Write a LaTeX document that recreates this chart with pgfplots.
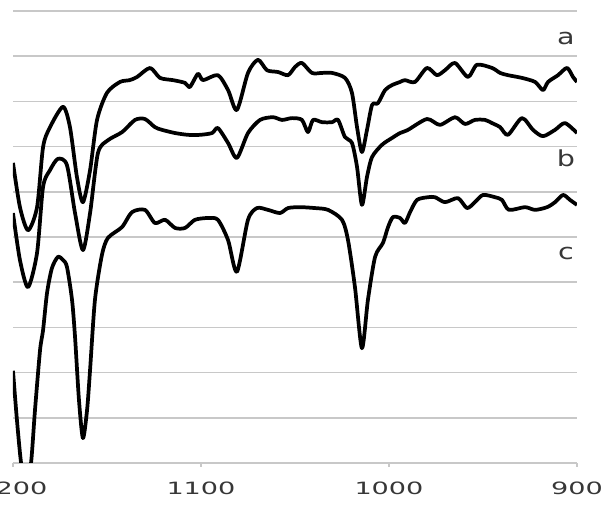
\documentclass[border=0pt]{standalone}
\usepackage{fontspec}
\usepackage{pgfplots}
\pgfplotsset{compat=1.18}
\newfontfamily\tickfont[FakeStretch=1.6]{DejaVu Sans}
\newfontfamily\labfont[FakeStretch=1.3]{DejaVu Sans}
\definecolor{gridgray}{RGB}{200,200,200}
\definecolor{txtgray}{RGB}{55,55,55}

\begin{document}
\begin{tikzpicture}
\path[use as bounding box] (-9.75pt,-32.25pt) rectangle (443.25pt,347.25pt);
\clip (-9.75pt,-32.25pt) rectangle (443.25pt,347.25pt);
\begin{axis}[
    scale only axis,
    width=423pt, height=339pt,
    xmin=900, xmax=1200, x dir=reverse,
    ymin=0, ymax=10,
    axis line style={draw=none},
    xtick={900,1000,1100,1200},
    xtick pos=bottom,
    tick align=outside,
    major tick length=3pt,
    x tick style={gridgray, line width=1pt},
    xticklabel style={font=\tickfont\fontsize{12.7}{14}\selectfont, text=txtgray, yshift=-8pt},
    /pgf/number format/assume math mode=true,
    /pgf/number format/1000 sep={},
    ytick={0,1,...,10},
    yticklabels={},
    y tick style={draw=none},
    ymajorgrids=true,
    grid style={gridgray, line width=1.3pt},
    spectrum/.style={black, no markers, line width=2.8pt, line join=round, smooth, tension=0.45},
]
% a
\addplot[spectrum] coordinates {
(1200,6.64) (1196.3,5.66) (1192.0,5.15) (1187.2,5.66) (1184.0,6.99) (1180.3,7.43)
(1173.4,7.88) (1169.7,7.43) (1166.0,6.33) (1162.8,5.77) (1159.0,6.48) (1155.3,7.59)
(1150.0,8.19) (1143.1,8.43) (1138.0,8.47) (1134.0,8.54) (1127.1,8.74) (1121.8,8.52) (1114.9,8.47)
(1108.5,8.41) (1105.9,8.32) (1101.6,8.61) (1098.9,8.47) (1091.0,8.58) (1085.6,8.25)
(1080.9,7.81) (1075.0,8.63) (1069.7,8.92) (1064.9,8.69) (1059.0,8.65) (1053.7,8.58)
(1050.0,8.76) (1046.3,8.85) (1041.0,8.63) (1035.6,8.63) (1030.3,8.63) (1023.4,8.52)
(1019.7,8.19) (1017.0,7.43) (1014.4,6.88) (1011.7,7.37) (1009.0,7.92) (1005.9,7.96)
(1002.1,8.25) (998.4,8.36) (994.1,8.43) (991.5,8.47) (986.2,8.43) (979.8,8.74)
(974.5,8.58) (970.2,8.69) (964.9,8.85) (958.0,8.54) (953.2,8.81) (945.2,8.74)
(940.9,8.63) (936.7,8.58) (929.3,8.52) (922.3,8.43) (918.1,8.25) (915.4,8.43)
(910.1,8.58) (905.3,8.74) (902.1,8.54) (900.0,8.43)
};
% b
\addplot[spectrum] coordinates {
(1200,5.53) (1196.3,4.49) (1192.0,3.89) (1187.2,4.65) (1184.0,6.11) (1180.3,6.48)
(1176.1,6.73) (1171.3,6.59) (1167.0,5.53) (1162.8,4.71) (1159.0,5.53) (1154.8,6.86)
(1149.5,7.14) (1142.0,7.32) (1135.1,7.59) (1129.8,7.61) (1124.5,7.43) (1120.7,7.37)
(1113.8,7.30) (1106.9,7.26) (1100.5,7.26) (1094.1,7.30) (1091.0,7.41) (1085.6,7.08)
(1080.9,6.75) (1075.0,7.30) (1068.6,7.59) (1061.7,7.65) (1056.9,7.59) (1051.6,7.63)
(1046.3,7.59) (1043.1,7.32) (1040.4,7.59) (1035.6,7.54) (1030.3,7.54) (1027.1,7.59)
(1023.4,7.21) (1019.7,7.08) (1017.0,6.55) (1014.4,5.71) (1011.7,6.33) (1009.0,6.77)
(1003.7,7.04) (998.4,7.19) (994.1,7.30) (989.9,7.37) (979.8,7.61) (972.9,7.48)
(964.9,7.65) (959.6,7.50) (954.3,7.59) (948.9,7.59) (945.2,7.52) (940.9,7.43)
(936.7,7.26) (929.3,7.63) (923.4,7.37) (918.1,7.23) (911.7,7.37) (906.4,7.52)
(900.0,7.30)
};
% c
\addplot[spectrum] coordinates {
(1200,2.04) (1197.9,0.95) (1195.7,0) (1193.1,-0.60) (1190.4,0) (1188.3,1.17)
(1185.6,2.50) (1184.0,2.94) (1181.9,3.76) (1179.3,4.31) (1176.1,4.56) (1173.4,4.49)
(1171.3,4.34) (1168.6,3.61) (1167.0,2.79) (1164.9,1.39) (1162.8,0.55) (1160.6,1.17)
(1159.0,2.06) (1156.4,3.61) (1152.7,4.60) (1149.5,4.98) (1142.0,5.22) (1136.7,5.55)
(1129.8,5.60) (1124.5,5.31) (1119.1,5.38) (1113.8,5.20) (1108.5,5.20) (1103.2,5.38)
(1096.3,5.42) (1091.0,5.38) (1085.6,4.93) (1080.9,4.23) (1075.0,5.38) (1070.2,5.64)
(1064.4,5.60) (1058.0,5.53) (1053.7,5.64) (1047.3,5.66) (1039.4,5.64) (1032.4,5.60)
(1025.0,5.38) (1021.8,4.93) (1018.1,3.89) (1014.4,2.54) (1011.2,3.61) (1007.4,4.56)
(1003.2,4.87) (1000.5,5.22) (997.9,5.44) (994.1,5.42) (991.5,5.31) (988.8,5.55)
(985.1,5.82) (979.3,5.88) (975.5,5.88) (970.2,5.77) (963.3,5.86) (958.5,5.64)
(954.3,5.77) (950.0,5.93) (943.6,5.88) (939.9,5.82) (936.2,5.60) (927.7,5.66)
(922.3,5.60) (915.9,5.66) (911.7,5.77) (907.4,5.93) (903.7,5.82) (900.0,5.71)
};
\node[anchor=base, font=\labfont\fontsize{16.5}{18}\selectfont, text=txtgray] at (axis cs:905.9,9.25) {a};
\node[anchor=base, font=\labfont\fontsize{16.5}{18}\selectfont, text=txtgray] at (axis cs:905.9,6.55) {b};
\node[anchor=base, font=\labfont\fontsize{16.5}{18}\selectfont, text=txtgray] at (axis cs:905.9,4.51) {c};
\end{axis}
\end{tikzpicture}
\end{document}
